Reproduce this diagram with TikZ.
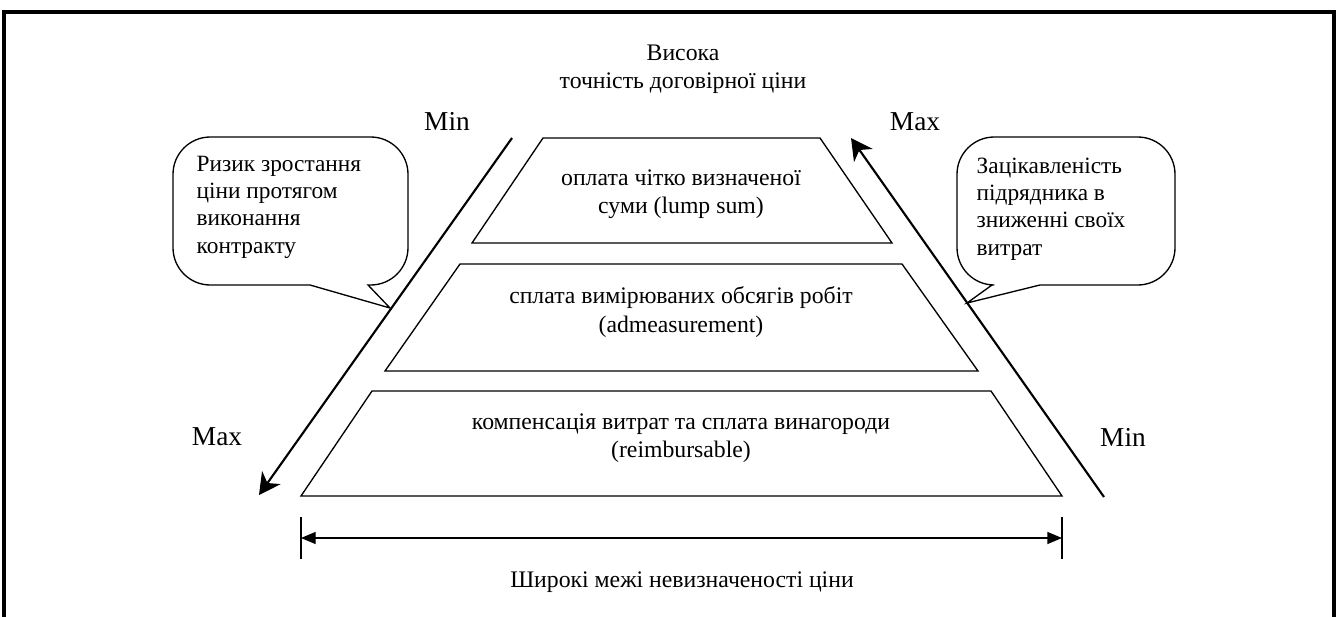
\documentclass[tikz,border=0pt]{standalone}
\usepackage{fontspec}
\setmainfont{Liberation Serif}
\usetikzlibrary{positioning}
\usetikzlibrary{arrows.meta,calc}

\begin{document}
\begin{tikzpicture}[x=0.75pt,y=-0.75pt,
  txt/.style={align=center,font=\fontsize{17.8}{21.3}\selectfont},
  note/.style={align=left,anchor=west,font=\fontsize{17.5}{20.5}\selectfont},
  lim/.style={font=\fontsize{20.5}{24}\selectfont},
  side/.style={line width=1.6pt},
  trap/.style={line width=1pt},
  bubble/.style={line width=1pt},
  bigtip/.style={-{Stealth[length=16pt,width=17pt,inset=5pt]}},
  dimtip/.style={{Triangle[length=11pt,width=9pt]}-{Triangle[length=11pt,width=9pt]}}]

\useasboundingbox (0,0) rectangle (1338,617);

\draw[line width=2.4pt] (4,617) -- (4,12) -- (1334,12) -- (1334,617);

\node[txt] (high) at (683,69) {Висока\\точність договірної ціни};

\draw[trap] (543,138) -- (820,138) -- (892,243) -- (472,243) -- cycle;
\node[txt] (lump) at (681,194) {оплата чітко визначеної\\суми (lump sum)};

\draw[trap] (460,264) -- (902,264) -- (978,371) -- (385,371) -- cycle;
\node[txt] (meas) at (681,312) {сплата вимірюваних обсягів робіт\\(admeasurement)};

\draw[trap] (372,391) -- (991,391) -- (1062,496) -- (301,496) -- cycle;
\node[txt] (reimb) at (681,438) {компенсація витрат та сплата винагороди\\(reimbursable)};

\coordinate (minL) at (512,138);
\coordinate (maxL) at (259,495);
\draw[side,bigtip] (minL) -- (maxL);

\coordinate (minR) at (1104,497);
\coordinate (maxR) at (851,138);
\draw[side,bigtip] (minR) -- (maxR);

\node[lim] (minA) at (447,121) {Min};
\node[lim] (maxA) at (915,122) {Max};
\node[lim] (maxB) at (217,437) {Max};
\node[lim] (minB) at (1123,437) {Min};

\draw[bubble] (390,308) -- (368,285) [rounded corners=28] -- (408,285) -- (408,137) -- (173,137) -- (173,285) [sharp corners] -- (310,285) -- cycle;
\node[note] (risk) at (192,207) {Ризик зростання\\ціни протягом\\виконання\\контракту};

\draw[bubble] (967,303) -- (1040,285) [rounded corners=28] -- (1175,285) -- (1175,137) -- (957,137) -- (957,285) [sharp corners] -- (992,285) -- cycle;
\node[note] (interest) at (972,209) {Зацікавленість\\підрядника в\\зниженні своїх\\витрат};

\coordinate (wL) at (301,538);
\coordinate (wR) at (1062,538);
\draw[trap] (301,517) -- (301,559);
\draw[trap] (1062,517) -- (1062,559);
\draw[trap,dimtip] (wL) -- (wR);
\node[txt] (wide) at (682,582) {Широкі межі невизначеності ціни};

\end{tikzpicture}
\end{document}
